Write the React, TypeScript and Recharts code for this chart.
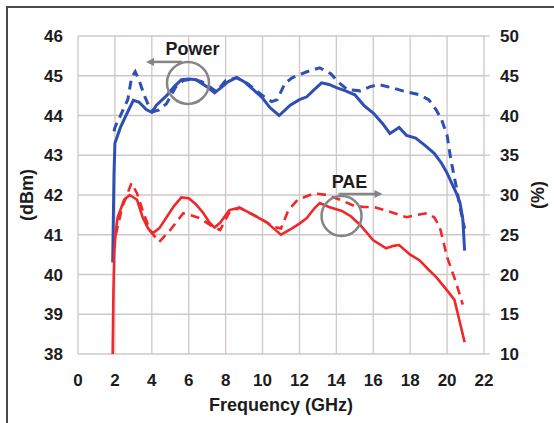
import React from 'react';
import { ComposedChart, Line, XAxis, YAxis, CartesianGrid, ReferenceDot } from 'recharts';

const xTicks = [0, 2, 4, 6, 8, 10, 12, 14, 16, 18, 20, 22];
const dbmTicks = [38, 39, 40, 41, 42, 43, 44, 45, 46];
const paeTicks = [10, 15, 20, 25, 30, 35, 40, 45, 50];

const powerSolidFreq = [1.88, 1.95, 2.0, 2.3, 2.6, 3.0, 3.3, 3.7, 4.0, 4.25, 4.8, 5.2, 5.6, 6.0, 6.4, 7.0, 7.4, 7.8, 8.1, 8.6, 9.0, 9.5, 10.0, 10.4, 10.9, 11.5, 12.0, 12.4, 12.8, 13.2, 13.6, 14.0, 14.5, 15.0, 15.5, 16.0, 16.5, 16.9, 17.4, 17.8, 18.3, 18.8, 19.3, 19.7, 20.0, 20.3, 20.5, 20.7, 20.85, 20.95];
const powerSolidDbm = [40.3, 42.5, 43.3, 43.7, 44.0, 44.38, 44.34, 44.15, 44.08, 44.26, 44.5, 44.72, 44.9, 44.92, 44.9, 44.72, 44.57, 44.72, 44.84, 44.96, 44.85, 44.65, 44.44, 44.2, 44.0, 44.26, 44.4, 44.47, 44.65, 44.82, 44.78, 44.7, 44.62, 44.52, 44.25, 44.06, 43.8, 43.55, 43.7, 43.5, 43.43, 43.25, 43.05, 42.8, 42.55, 42.25, 42.05, 41.8, 41.4, 40.6];

const powerDashFreq = [1.95, 2.0, 2.4, 2.7, 2.9, 3.1, 3.3, 3.6, 3.8, 4.1, 4.4, 4.8, 5.3, 5.7, 6.2, 6.7, 7.2, 7.5, 8.0, 8.6, 9.2, 9.6, 10.0, 10.5, 10.8, 11.2, 11.6, 12.4, 13.1, 13.7, 14.1, 14.6, 15.3, 15.8, 16.3, 17.0, 17.6, 18.5, 19.0, 19.4, 19.7, 20.0, 20.2, 20.5, 20.7, 20.95];
const powerDashDbm = [43.6, 43.7, 44.1, 44.4, 44.95, 45.1, 44.9, 44.5, 44.28, 44.1, 44.14, 44.3, 44.72, 44.88, 44.92, 44.85, 44.7, 44.6, 44.88, 44.95, 44.8, 44.65, 44.5, 44.35, 44.4, 44.8, 44.95, 45.1, 45.2, 45.05, 44.84, 44.65, 44.62, 44.72, 44.78, 44.7, 44.62, 44.52, 44.4, 44.15, 43.9, 43.5, 42.9, 42.2, 41.7, 41.15];

const paeSolidFreq = [1.88, 1.92, 1.97, 2.05, 2.15, 2.5, 2.8, 3.2, 3.5, 3.8, 4.05, 4.4, 4.8, 5.2, 5.6, 6.0, 6.4, 6.8, 7.1, 7.4, 7.7, 8.2, 8.75, 9.5, 10.2, 10.6, 11.0, 11.6, 12.0, 12.4, 12.8, 13.1, 13.6, 14.3, 14.8, 15.3, 16.0, 16.7, 17.1, 17.4, 18.0, 18.5, 19.0, 19.4, 20.0, 20.4, 20.7, 20.95];
const paeSolidPct = [10, 18, 23, 25.5, 27.2, 29.4, 30.0, 29.4, 27.2, 25.8, 25.2, 25.8, 27.2, 28.6, 29.7, 29.6, 28.8, 27.7, 26.6, 25.9, 26.5, 28.1, 28.4, 27.5, 26.6, 25.8, 25.0, 25.8, 26.4, 27.1, 28.3, 29.0, 28.5, 28.0, 27.3, 26.2, 24.3, 23.3, 23.6, 23.7, 22.5, 21.8, 20.6, 19.7, 18.0, 16.8, 13.9, 11.5];

const paeDashFreq = [2.05, 2.4, 2.9, 3.2, 3.5, 3.9, 4.4, 5.0, 5.7, 6.2, 6.6, 7.3, 7.7, 8.2, 8.75, 9.5, 10.2, 10.6, 11.0, 11.4, 11.9, 12.8, 13.5, 14.2, 15.0, 15.5, 16.0, 16.9, 17.8, 18.4, 18.9, 19.3, 19.6, 20.0, 20.5, 20.85];
const paeDashPct = [25, 28.5, 31.5, 30.2, 28.1, 25.5, 24.1, 25.6, 27.7, 27.4, 27.1, 26.0, 25.6, 27.8, 28.4, 27.5, 26.6, 26.0, 25.8, 28.1, 29.4, 30.2, 30.0, 29.4, 28.6, 28.5, 28.5, 27.9, 27.2, 27.5, 27.7, 27.2, 26.0, 22.2, 18.9, 16.2];

const toRows = (xs: number[], ys: number[]) => xs.map((f, i) => ({ f, v: ys[i] }));
const powerSolid = toRows(powerSolidFreq, powerSolidDbm);
const powerDash = toRows(powerDashFreq, powerDashDbm);
const paeSolid = toRows(paeSolidFreq, paeSolidPct);
const paeDash = toRows(paeDashFreq, paeDashPct);

const FONT = '"Liberation Sans", Arial, sans-serif';
const TXT = '#1c1c1c';
const BLUE = '#2f4fb5';
const RED = '#f0282a';
const GRAY = '#858585';
const GRID = '#cfc7c7';

const tickStyle = { fill: TXT, fontSize: 17, fontWeight: 'bold' as const, fontFamily: FONT };

const PowerNote = (props: any) => {
  const { cx, cy } = props;
  return (
    <g>
      <circle cx={cx} cy={cy} r={21} fill="none" stroke={GRAY} strokeWidth={2.5} />
      <line x1={cx - 6} y1={cy - 21} x2={cx - 35} y2={cy - 21} stroke={GRAY} strokeWidth={2.5} />
      <polygon points={`${cx - 42},${cy - 21} ${cx - 34},${cy - 25} ${cx - 34},${cy - 17}`} fill={GRAY} />
      <text x={cx + 4.5} y={cy - 28} textAnchor="middle" fill={TXT} fontSize={18} fontWeight="bold" fontFamily={FONT}>Power</text>
    </g>
  );
};

const PaeNote = (props: any) => {
  const { cx, cy } = props;
  return (
    <g>
      <circle cx={cx} cy={cy} r={20} fill="none" stroke={GRAY} strokeWidth={2.5} />
      <line x1={cx - 3} y1={cy - 22} x2={cx + 34} y2={cy - 22} stroke={GRAY} strokeWidth={2.5} />
      <polygon points={`${cx + 41},${cy - 22} ${cx + 33},${cy - 26} ${cx + 33},${cy - 18}`} fill={GRAY} />
      <text x={cx + 8} y={cy - 28} textAnchor="middle" fill={TXT} fontSize={18} fontWeight="bold" fontFamily={FONT}>PAE</text>
    </g>
  );
};

const leftLabel = (props: any) => {
  const vb = props.viewBox;
  const cx = vb.x + 27;
  const cy = vb.y + vb.height / 2;
  return (
    <text x={cx} y={cy} transform={`rotate(-90 ${cx} ${cy})`} textAnchor="middle" dominantBaseline="central" fill={TXT} fontSize={18} fontWeight="bold" fontFamily={FONT}>(dBm)</text>
  );
};

const rightLabel = (props: any) => {
  const vb = props.viewBox;
  const cx = vb.x + 54;
  const cy = vb.y + vb.height / 2;
  return (
    <text x={cx} y={cy} transform={`rotate(-90 ${cx} ${cy})`} textAnchor="middle" dominantBaseline="central" fill={TXT} fontSize={18} fontWeight="bold" fontFamily={FONT}>(%)</text>
  );
};

export default function App() {
  return (
    <div style={{ position: 'absolute', left: 0, top: 0, width: 554, height: 423, overflow: 'hidden', background: '#ffffff' }}>
      <div style={{ position: 'absolute', left: 6, top: 6, width: 560, height: 430, borderLeft: '2px solid #4a4a4a', borderTop: '2px solid #4a4a4a', boxSizing: 'border-box' }} />
      <div style={{ position: 'absolute', left: 0, top: 0 }}>
        <ComposedChart width={554} height={423} margin={{ top: 36, right: 0, bottom: 0, left: 0 }}>
          <CartesianGrid yAxisId="l" stroke={GRID} strokeWidth={1.3} horizontalValues={dbmTicks} verticalValues={xTicks} />
          <XAxis
            dataKey="f"
            type="number"
            domain={[0, 22]}
            ticks={xTicks}
            interval={0}
            axisLine={false}
            tickLine={false}
            tickSize={0}
            tickMargin={20}
            height={69}
            tick={tickStyle}
            label={{ value: 'Frequency (GHz)', position: 'insideBottom', offset: 12, fill: TXT, fontSize: 18, fontWeight: 'bold', fontFamily: FONT }}
          />
          <YAxis
            yAxisId="l"
            orientation="left"
            type="number"
            domain={[38, 46]}
            ticks={dbmTicks}
            interval={0}
            width={78}
            axisLine={false}
            tickLine={false}
            tickSize={0}
            tickMargin={15}
            tick={tickStyle}
            label={leftLabel}
          />
          <YAxis
            yAxisId="r"
            orientation="right"
            type="number"
            domain={[10, 50]}
            ticks={paeTicks}
            interval={0}
            width={70}
            axisLine={false}
            tickLine={{ stroke: GRID, strokeWidth: 1.3 }}
            tickSize={6}
            tickMargin={10}
            tick={{ ...tickStyle, textAnchor: 'start' }}
            label={rightLabel}
          />
          <Line yAxisId="l" data={powerSolid} dataKey="v" type="linear" stroke={BLUE} strokeWidth={3} dot={false} isAnimationActive={false} />
          <Line yAxisId="l" data={powerDash} dataKey="v" type="linear" stroke={BLUE} strokeWidth={3} strokeDasharray="9 6" dot={false} isAnimationActive={false} />
          <Line yAxisId="r" data={paeSolid} dataKey="v" type="linear" stroke={RED} strokeWidth={2.6} dot={false} isAnimationActive={false} />
          <Line yAxisId="r" data={paeDash} dataKey="v" type="linear" stroke={RED} strokeWidth={2.6} strokeDasharray="9 6" dot={false} isAnimationActive={false} />
          <ReferenceDot yAxisId="l" x={5.96} y={44.82} shape={PowerNote} />
          <ReferenceDot yAxisId="r" x={14.28} y={27.36} shape={PaeNote} />
        </ComposedChart>
      </div>
    </div>
  );
}
